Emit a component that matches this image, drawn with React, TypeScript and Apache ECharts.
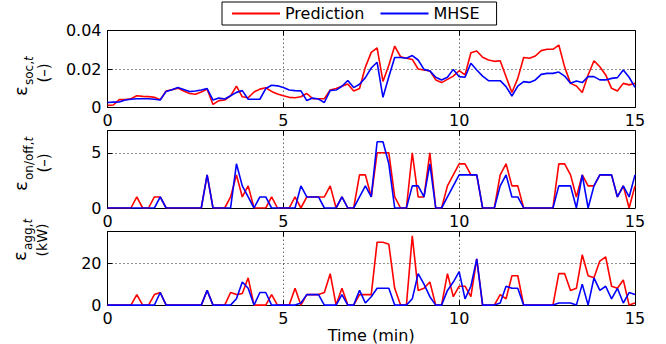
import React, { useEffect, useRef } from "react";
import * as echarts from "echarts";

// Sampling step of the recorded series (minutes)
const STEP_MIN = 1 / 6;

// Panel 1: SOC estimation error (-)
const socPred = [
  0.001, 0.0012, 0.004, 0.004, 0.0045, 0.006, 0.0057, 0.0056, 0.0052, 0.004,
  0.0085, 0.0092, 0.01, 0.0085, 0.0072, 0.0068, 0.008, 0.0095, 0.0015, 0.0035,
  0.0038, 0.006, 0.011, 0.0055, 0.005, 0.008, 0.0095, 0.0102, 0.0083, 0.007,
  0.006, 0.0052, 0.005, 0.0055, 0.0072, 0.0045, 0.0045, 0.0045, 0.009, 0.0098,
  0.011, 0.0122, 0.0085, 0.0098, 0.021, 0.0287, 0.031, 0.0135, 0.022, 0.032,
  0.0264, 0.0256, 0.025, 0.02, 0.0195, 0.019, 0.0143, 0.0129, 0.0146, 0.0163,
  0.0191, 0.0169, 0.0285, 0.0294, 0.0261, 0.0247, 0.024, 0.0243, 0.016, 0.0077,
  0.0151, 0.026, 0.0256, 0.0268, 0.0296, 0.0303, 0.0303, 0.0325, 0.021, 0.0125,
  0.0111, 0.0077, 0.0169, 0.0243, 0.0212, 0.0169, 0.0099, 0.0085, 0.0125, 0.0117,
  0.0125,
];
const socMhse = [
  0.0025, 0.0027, 0.0028, 0.0038, 0.0042, 0.0045, 0.0045, 0.0045, 0.0042, 0.0038,
  0.0083, 0.0092, 0.0103, 0.0093, 0.0082, 0.0085, 0.009, 0.0098, 0.0038, 0.0048,
  0.0043, 0.006, 0.0078, 0.0087, 0.0042, 0.0042, 0.0042, 0.0098, 0.0115, 0.0112,
  0.0103, 0.009, 0.0087, 0.0086, 0.0035, 0.0048, 0.0043, 0.0025, 0.0088, 0.009,
  0.011, 0.014, 0.0103, 0.012, 0.0155, 0.0205, 0.0235, 0.0052, 0.016, 0.026,
  0.026, 0.0256, 0.027, 0.0247, 0.0198, 0.019, 0.0157, 0.0143, 0.0157, 0.0198,
  0.016, 0.0157, 0.023, 0.0195, 0.0163, 0.0139, 0.0139, 0.0139, 0.0108, 0.0059,
  0.0111, 0.0134, 0.013, 0.0143, 0.0172, 0.0177, 0.0177, 0.0184, 0.0163, 0.0125,
  0.0137, 0.0129, 0.016, 0.016, 0.0143, 0.0143, 0.0151, 0.0155, 0.0195, 0.0157,
  0.0104,
];

// Panel 2: on/off error (-)
const onoffPred = [
  0, 0, 0, 0, 0, 1, 0, 0, 1, 1,
  0, 0, 0, 0, 0, 0, 0, 3, 0, 0,
  0, 1, 3, 1, 2, 0, 0, 0, 1, 0,
  0, 0, 1, 0, 1, 1, 1, 1, 2, 0,
  1, 0, 0, 3, 3, 1, 5, 5, 5, 1,
  0, 0, 5, 1, 1, 5, 0, 0, 2, 3,
  4, 4, 3, 3, 0, 0, 0, 3, 4, 2,
  2, 0, 0, 0, 0, 0, 0, 4, 4, 3,
  1, 3, 2, 2, 3, 3, 3, 1, 2, 0,
  2,
];
const onoffMhse = [
  0, 0, 0, 0, 0, 0, 0, 0, 0, 1,
  0, 0, 0, 0, 0, 0, 0, 3, 0, 0,
  0, 0, 4, 2, 1, 0, 1, 1, 0, 0,
  0, 0, 0, 2, 1, 1, 1, 0, 0, 0,
  1, 0, 0, 1, 2, 1, 6, 6, 4, 0,
  0, 0, 2, 2, 1, 4, 0, 0, 1, 2,
  3, 3, 3, 3, 0, 0, 0, 2, 3, 1,
  1, 0, 0, 0, 0, 0, 0, 2, 2, 2,
  0, 3, 0, 2, 3, 3, 3, 1, 2, 1,
  3,
];

// Panel 3: aggregated power error (kW)
const aggPred = [
  0, 0, 0, 0, 0, 5, 0, 0, 5, 6,
  0, 0, 0, 0, 0, 0, 0, 7, 0, 0,
  0, 6, 5, 5.5, 13, 0, 0, 0, 5, 0,
  0, 0, 8, 0, 5, 5, 5, 6, 15, 0,
  8, 0, 0, 5, 5, 5, 30, 30, 29, 8,
  0, 0, 33, 7, 8, 11, 0, 0, 15, 4,
  9, 9, 4, 22, 0, 0, 0, 5, 3, 14,
  14, 0, 0, 0, 0, 0, 0, 15, 15, 7,
  8, 24, 14, 13, 21, 23, 9, 8, 12, 0,
  1,
];
const aggMhse = [
  0, 0, 0, 0, 0, 0, 0, 0, 0, 6,
  0, 0, 0, 0, 0, 0, 0, 7, 0, 0,
  0, 0, 3, 11, 8, 0, 6, 6, 0, 0,
  0, 0, 0, 1, 5, 5, 5, 0, 0, 0,
  5, 0, 0, 7, 1, 4, 8, 8, 8, 0,
  0, 0, 3, 15, 10, 4, 0, 0, 7, 11,
  16, 3, 9, 22, 0, 0, 0, 1, 9, 8,
  8, 0, 0, 0, 0, 0, 0, 1, 1, 1,
  0, 10, 0, 13, 7, 9, 3, 8, 1, 6,
  5,
];

const seriesNames = ["Prediction", "MHSE"];
const xTicks = [0, 5, 10, 15];
const yLabels = [
  { sym: "ε", sub: "soc,", subIt: "t", unit: "(–)" },
  { sym: "ε", sub: "on/off,", subIt: "t", unit: "(–)" },
  { sym: "ε", sub: "agg,", subIt: "t", unit: "(kW)" },
];

const times = socPred.map((_, i) => Math.round(i * STEP_MIN * 10000) / 10000);
const pairs = (arr: number[]) => arr.map((v, i) => [times[i], v]);

const FONT = '"DejaVu Sans", sans-serif';
const RED = "#ff0000";
const BLUE = "#0000ff";

export default function App() {
  const ref = useRef<HTMLDivElement>(null);

  useEffect(() => {
    if (!ref.current) return;
    const chart = echarts.init(ref.current, undefined, { renderer: "svg" });

    const left = 107.5;
    const right = 31;
    const grids = [
      { left, right, top: 30.7, height: 76.6 },
      { left, right, top: 130.7, height: 77.3 },
      { left, right, top: 231.7, height: 76.6 },
    ];
    const yCfg = [
      { max: 0.04, interval: 0.02, fmt: (v: number) => (v === 0 ? "0" : v.toFixed(2)) },
      { max: 7, interval: 5, fmt: (v: number) => (v % 5 === 0 ? String(v) : "") },
      { max: 35, interval: 20, fmt: (v: number) => (v % 20 === 0 ? String(v) : "") },
    ];

    const axisLine = { show: true, onZero: false, lineStyle: { color: "#000", width: 1 } };
    const tick = { show: true, inside: true, length: 5, lineStyle: { color: "#000", width: 1 } };
    const dotted = { show: true, lineStyle: { color: "#222", width: 1, type: [1, 3] as any } };

    const xAxis: any[] = [];
    const yAxis: any[] = [];
    grids.forEach((_, g) => {
      xAxis.push({
        type: "value",
        gridIndex: g,
        position: "bottom",
        min: xTicks[0],
        max: xTicks[xTicks.length - 1],
        interval: 5,
        axisLine,
        axisTick: tick,
        splitLine: dotted,
        axisLabel: { show: true, margin: 5, color: "#000", fontFamily: FONT, fontSize: 16 },
        ...(g === 2
          ? {
              name: "Time (min)",
              nameLocation: "middle",
              nameGap: 9,
              nameTextStyle: { color: "#000", fontFamily: FONT, fontSize: 16 },
            }
          : {}),
      });
      xAxis.push({
        type: "value",
        gridIndex: g,
        position: "top",
        min: 0,
        max: 15,
        interval: 5,
        axisLine,
        axisTick: tick,
        splitLine: { show: false },
        axisLabel: { show: false },
      });
      yAxis.push({
        type: "value",
        gridIndex: g,
        position: "left",
        min: 0,
        max: yCfg[g].max,
        interval: yCfg[g].interval,
        axisLine,
        axisTick: tick,
        splitLine: dotted,
        axisLabel: {
          show: true,
          margin: 6,
          color: "#000",
          fontFamily: FONT,
          fontSize: 16,
          formatter: yCfg[g].fmt,
        },
      });
      yAxis.push({
        type: "value",
        gridIndex: g,
        position: "right",
        min: 0,
        max: yCfg[g].max,
        interval: yCfg[g].interval,
        axisLine,
        axisTick: tick,
        splitLine: { show: false },
        axisLabel: { show: false },
      });
    });

    const panelData = [
      [socPred, socMhse],
      [onoffPred, onoffMhse],
      [aggPred, aggMhse],
    ];
    const series: any[] = [];
    panelData.forEach((pd, g) => {
      pd.forEach((arr, k) => {
        series.push({
          type: "line",
          name: seriesNames[k],
          xAxisIndex: g * 2,
          yAxisIndex: g * 2,
          data: pairs(arr),
          symbol: "none",
          showSymbol: false,
          lineStyle: { color: k === 0 ? RED : BLUE, width: 1.6 },
          itemStyle: { color: k === 0 ? RED : BLUE },
          z: 3 + k,
        });
      });
    });

    const labelPos = [
      { x: 20, y: 96, sx: 28.5, sy: 85, ux: 44, uy: 73, us: 15 },
      { x: 20, y: 191, sx: 28.5, sy: 180, ux: 44, uy: 163, us: 15 },
      { x: 19, y: 261, sx: 27.5, sy: 250, ux: 42, uy: 240, us: 14 },
    ];
    const graphic: any[] = [];
    yLabels.forEach((lab, g) => {
      const p = labelPos[g];
      graphic.push({
        type: "text",
        x: p.x,
        y: p.y,
        rotation: Math.PI / 2,
        style: { text: lab.sym, fontFamily: FONT, fontSize: 18, fill: "#000", align: "left", verticalAlign: "middle" },
      });
      graphic.push({
        type: "text",
        x: p.sx,
        y: p.sy,
        rotation: Math.PI / 2,
        style: {
          text: `{n|${lab.sub}}{i|${lab.subIt}}`,
          fontFamily: FONT,
          fontSize: 12,
          fill: "#000",
          align: "left",
          verticalAlign: "middle",
          rich: {
            n: { fontFamily: FONT, fontSize: 12, fill: "#000" },
            i: { fontFamily: FONT, fontSize: 12, fill: "#000", fontStyle: "italic" },
          },
        },
      });
      graphic.push({
        type: "text",
        x: p.ux,
        y: p.uy,
        rotation: Math.PI / 2,
        style: { text: lab.unit, fontFamily: FONT, fontSize: p.us, fill: "#000", align: "center", verticalAlign: "middle" },
      });
    });

    chart.setOption({
      animation: false,
      backgroundColor: "#fff",
      grid: grids,
      xAxis,
      yAxis,
      series,
      graphic,
      legend: {
        data: seriesNames.map((n) => ({ name: n, icon: "rect" })),
        left: 222,
        top: 2,
        orient: "horizontal",
        itemWidth: 48,
        itemHeight: 2,
        itemGap: 16,
        padding: [2, 17, 2, 10],
        borderColor: "#000",
        borderWidth: 1,
        backgroundColor: "#fff",
        itemStyle: { borderWidth: 0 },
        textStyle: { fontFamily: FONT, fontSize: 16, color: "#000", lineHeight: 19 },
      },
    });

    return () => chart.dispose();
  }, []);

  return (
    <div
      ref={ref}
      style={{ position: "absolute", left: 0, top: 0, width: 666, height: 344, background: "#fff" }}
    />
  );
}
